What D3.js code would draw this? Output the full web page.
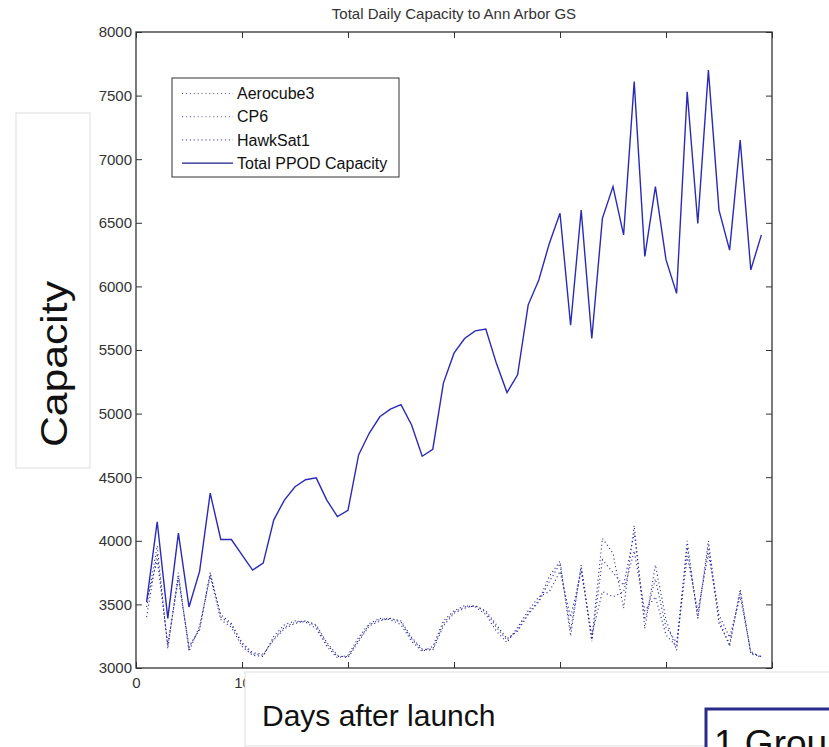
<!DOCTYPE html>
<html>
<head>
<meta charset="utf-8">
<script src="https://cdn.jsdelivr.net/npm/d3@7"></script>
<style>
  body { margin: 0; background: #fff; }
  text { font-family: "Liberation Sans", Arial, sans-serif; }
</style>
</head>
<body>
<script>
const days = d3.range(1, 60);

const aerocube3 = [3400, 3900, 3170, 3720, 3160, 3310, 3750, 3400, 3340, 3190,
  3110, 3100, 3230, 3320, 3360, 3370, 3330, 3190, 3090, 3090,
  3220, 3340, 3380, 3390, 3360, 3230, 3140, 3150, 3350, 3440,
  3480, 3490, 3440, 3320, 3220, 3300, 3430, 3530, 3720, 3840,
  3250, 3810, 3220, 4020, 3900, 3470, 4120, 3310, 3810, 3380,
  3140, 4000, 3380, 4000, 3380, 3170, 3620, 3110, 3090];

const cp6 = [3480, 3960, 3150, 3750, 3130, 3330, 3720, 3380, 3320, 3170,
  3100, 3090, 3250, 3340, 3370, 3360, 3310, 3170, 3080, 3100,
  3240, 3350, 3390, 3380, 3340, 3210, 3130, 3170, 3370, 3450,
  3490, 3480, 3420, 3290, 3200, 3320, 3450, 3560, 3600, 3760,
  3400, 3760, 3260, 3600, 3560, 3600, 3920, 3450, 3560, 3260,
  3170, 3880, 3450, 3900, 3420, 3240, 3560, 3130, 3080];

const hawkSat1 = [3520, 3850, 3190, 3700, 3170, 3300, 3740, 3420, 3350, 3200,
  3120, 3110, 3220, 3310, 3350, 3370, 3340, 3200, 3100, 3080,
  3210, 3330, 3370, 3390, 3370, 3240, 3150, 3140, 3330, 3430,
  3470, 3490, 3450, 3340, 3230, 3290, 3420, 3520, 3680, 3820,
  3300, 3790, 3210, 3850, 3750, 3650, 4060, 3380, 3700, 3320,
  3200, 3950, 3400, 3960, 3350, 3190, 3600, 3120, 3090];

const totalPpod = [3520, 4150, 3390, 4060, 3480, 3760, 4375, 4010, 4010, 3890,
  3770, 3825, 4165, 4320, 4425, 4480, 4495, 4320, 4190, 4240,
  4675, 4845, 4975, 5035, 5070, 4910, 4665, 4720, 5240, 5475,
  5590, 5650, 5665, 5395, 5165, 5305, 5855, 6050, 6340, 6575,
  5695, 6600, 5590, 6535, 6785, 6405, 7610, 6235, 6785, 6210,
  5945, 7530, 6495, 7700, 6600, 6285, 7150, 6130, 6405];

const seriesNames = ["Aerocube3", "CP6", "HawkSat1", "Total PPOD Capacity"];
const yTicks = [3000, 3500, 4000, 4500, 5000, 5500, 6000, 6500, 7000, 7500, 8000];
const xTicks = [0, 10, 20, 30, 40, 50, 60];

const width = 829;
const height = 747;
const margin = { top: 32, right: 57, bottom: 79, left: 136 };
const plotW = width - margin.left - margin.right;
const plotH = height - margin.top - margin.bottom;

const dotColor = "#26269e";
const lineColor = "#2a2ab8";

const svg = d3.select("body").append("svg").attr("width", width).attr("height", height);

svg
  .append("text")
  .attr("x", margin.left + plotW / 2)
  .attr("y", 19)
  .attr("text-anchor", "middle")
  .style("font-size", "15px")
  .style("fill", "#333")
  .text("Total Daily Capacity to Ann Arbor GS");

const g = svg.append("g").attr("transform", "translate(" + margin.left + "," + margin.top + ")");

const x = d3.scaleLinear().domain([0, 60]).range([0, plotW]);
const y = d3.scaleLinear().domain([3000, 8000]).range([plotH, 0]);

const styleAxis = (sel) => {
  sel.select(".domain").remove();
  sel.selectAll("line").attr("stroke", "#333");
  sel.selectAll("text").style("font-size", "15px").style("fill", "#333").style("font-family", "'Liberation Sans', Arial, sans-serif");
};

g.append("g")
  .call(d3.axisLeft(y).tickValues(yTicks).tickFormat(d3.format("d")).tickSize(-6).tickPadding(4))
  .call(styleAxis);

g.append("g")
  .attr("transform", "translate(" + plotW + ",0)")
  .call(d3.axisRight(y).tickValues(yTicks).tickSize(-6).tickFormat(""))
  .call(styleAxis);

g.append("g")
  .attr("transform", "translate(0," + plotH + ")")
  .call(d3.axisBottom(x).tickValues(xTicks).tickFormat(d3.format("d")).tickSize(-6).tickPadding(9))
  .call(styleAxis);

g.append("g")
  .call(d3.axisTop(x).tickValues(xTicks).tickSize(-6).tickFormat(""))
  .call(styleAxis);

g.append("rect")
  .attr("width", plotW)
  .attr("height", plotH)
  .attr("fill", "none")
  .attr("stroke", "#333")
  .attr("stroke-width", 1.3);

const line = d3
  .line()
  .x((d, i) => x(days[i]))
  .y((d) => y(d));

[aerocube3, cp6, hawkSat1].forEach((s) => {
  g.append("path")
    .datum(s)
    .attr("d", line)
    .attr("fill", "none")
    .attr("stroke", dotColor)
    .attr("stroke-width", 1.1)
    .attr("stroke-dasharray", "1.1,2.8");
});

g.append("path")
  .datum(totalPpod)
  .attr("d", line)
  .attr("fill", "none")
  .attr("stroke", lineColor)
  .attr("stroke-width", 1.4);

// leyenda
const legend = svg.append("g").attr("transform", "translate(172,78)");
legend.append("rect").attr("width", 227).attr("height", 99).attr("fill", "#fff").attr("stroke", "#333");

const items = legend
  .selectAll("g.item")
  .data(seriesNames)
  .enter()
  .append("g")
  .attr("class", "item")
  .attr("transform", (_, i) => "translate(0," + (15.5 + i * 23.2) + ")");

items
  .append("line")
  .attr("x1", 10)
  .attr("x2", 61)
  .attr("stroke", (_, i) => (i < 3 ? "#5a5aa8" : "#1c1c8a"))
  .attr("stroke-width", (_, i) => (i < 3 ? 1.1 : 1.4))
  .attr("stroke-dasharray", (_, i) => (i < 3 ? "1.1,2.8" : null));

items
  .append("text")
  .attr("x", 65)
  .attr("dy", "0.35em")
  .style("font-size", "16px")
  .style("fill", "#111")
  .text((d) => d);

// cajas superpuestas (etiquetas de la diapositiva)
svg.append("rect").attr("x", 16).attr("y", 113).attr("width", 74).attr("height", 355)
  .attr("fill", "#fff").attr("stroke", "#ddd");
svg
  .append("text")
  .attr("transform", "translate(67,447) rotate(-90)")
  .attr("textLength", 166)
  .attr("lengthAdjust", "spacingAndGlyphs")
  .style("font-size", "37px")
  .style("fill", "#111")
  .text("Capacity");

svg.append("rect").attr("x", 245).attr("y", 672).attr("width", 600).attr("height", 74)
  .attr("fill", "#fff").attr("stroke", "#ddd");
svg
  .append("text")
  .attr("x", 262)
  .attr("y", 726)
  .style("font-size", "30px")
  .style("fill", "#111")
  .text("Days after launch");

svg.append("rect").attr("x", 706).attr("y", 709).attr("width", 200).attr("height", 80)
  .attr("fill", "#fff").attr("stroke", "#2b2b8a").attr("stroke-width", 3);
svg
  .append("text")
  .attr("x", 714)
  .attr("y", 756)
  .style("font-size", "37px")
  .style("fill", "#111")
  .text("1 Ground Station");
</script>
</body>
</html>
